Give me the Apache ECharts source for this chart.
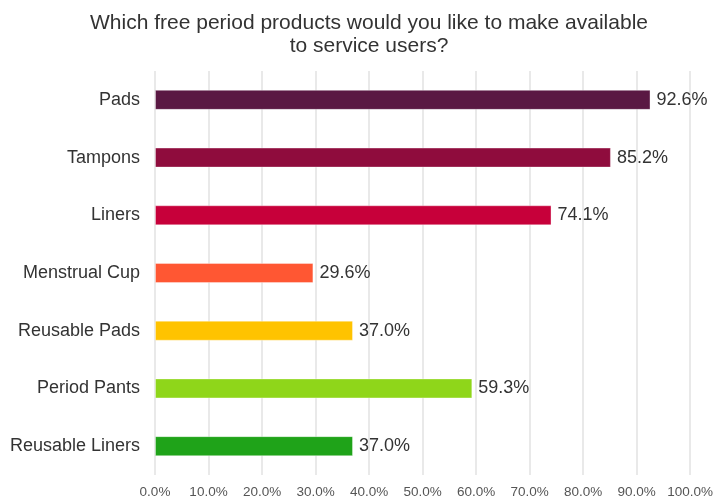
<!DOCTYPE html>
<html>
<head>
<meta charset="utf-8">
<script src="https://cdn.jsdelivr.net/npm/echarts@6/dist/echarts.min.js"></script>
<style>
  html, body { margin: 0; padding: 0; background: #fff; }
  #chart { width: 716px; height: 499px; }
</style>
</head>
<body>
<div id="chart"></div>
<script>
// Survey answers, top to bottom as drawn
const categories = ['Pads', 'Tampons', 'Liners', 'Menstrual Cup', 'Reusable Pads', 'Period Pants', 'Reusable Liners'];
const percentages = [92.6, 85.2, 74.1, 29.6, 37.0, 59.3, 37.0];
const barColors = ['#5a1843', '#8f0c3d', '#c7003a', '#ff5733', '#ffc300', '#8fd61a', '#1fa319'];
const titleText = 'Which free period products would you like to make available\nto service users?';

const FONT = 'Liberation Sans, Arial, sans-serif';
const chart = echarts.init(document.getElementById('chart'), null, { renderer: 'canvas' });

chart.setOption({
  animation: false,
  backgroundColor: '#ffffff',
  title: {
    text: titleText,
    left: 364,
    textAlign: 'center',
    top: 7,
    textStyle: {
      fontFamily: FONT,
      fontSize: 21,
      fontWeight: 'normal',
      color: '#333333',
      lineHeight: 23
    }
  },
  grid: { left: 155, right: 22, top: 71, bottom: 22 },
  xAxis: {
    type: 'value',
    min: 0,
    max: 100,
    interval: 10,
    axisLine: { show: false },
    axisTick: { show: false },
    splitLine: { show: true, lineStyle: { color: '#e2e2e2', width: 1.5 } },
    axisLabel: {
      formatter: v => v.toFixed(1) + '%',
      fontFamily: FONT,
      fontSize: 13.5,
      color: '#555555',
      margin: 10
    }
  },
  yAxis: {
    type: 'category',
    inverse: true,
    data: categories,
    axisLine: { show: false },
    axisTick: { show: false },
    axisLabel: {
      fontFamily: FONT,
      fontSize: 18,
      color: '#333333',
      margin: 15
    }
  },
  series: [{
    type: 'bar',
    barWidth: 20,
    data: percentages.map((v, i) => ({
      value: v,
      itemStyle: { color: barColors[i], borderColor: 'rgba(255,255,255,0.35)', borderWidth: 1 }
    })),
    label: {
      show: true,
      position: 'right',
      distance: 6,
      formatter: p => p.value.toFixed(1) + '%',
      fontFamily: FONT,
      fontSize: 18,
      color: '#333333'
    }
  }]
});
</script>
</body>
</html>
